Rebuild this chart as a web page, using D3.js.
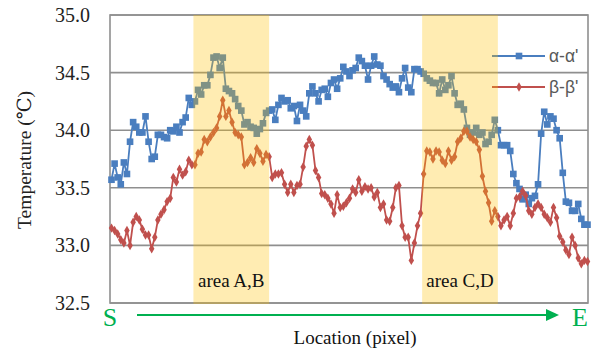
<!DOCTYPE html>
<html><head><meta charset="utf-8">
<script src="https://cdn.jsdelivr.net/npm/d3@7"></script>
<style>body{margin:0;background:#fff}svg{display:block}</style>
</head><body><svg id="c" width="599" height="352"></svg>
<script>
const yTicks = [32.5, 33.0, 33.5, 34.0, 34.5, 35.0];
const seriesNames = ["α-α'", "β-β'"];
const areaLabels = ["area A,B", "area C,D"];
// highlighted areas as [start index, end index] on the location axis
const areaStart = [26.5, 100.5];
const areaEnd = [51, 125];
const alpha = [33.57,33.71,33.59,33.53,33.72,33.62,33.90,34.07,34.03,33.98,33.98,34.12,33.90,33.75,33.77,33.96,33.96,33.94,33.93,34.00,
33.99,34.03,33.98,34.07,34.11,34.28,34.22,34.25,34.35,34.31,34.39,34.39,34.48,34.63,34.64,34.54,34.63,34.36,34.34,34.32,
34.27,34.21,34.17,34.05,34.07,34.03,34.02,33.97,34.01,34.06,34.15,34.17,34.18,34.09,34.22,34.28,34.25,34.26,34.19,34.21,
34.08,34.22,34.17,34.12,34.32,34.38,34.32,34.25,34.35,34.36,34.29,34.41,34.44,34.36,34.45,34.55,34.51,34.47,34.52,34.54,
34.63,34.60,34.56,34.44,34.56,34.64,34.57,34.56,34.47,34.44,34.40,34.37,34.38,34.33,34.45,34.54,34.37,34.33,34.53,34.53,
34.51,34.49,34.45,34.43,34.41,34.41,34.32,34.44,34.35,34.39,34.47,34.32,34.22,34.23,34.18,34.02,33.96,33.98,34.02,33.96,
33.98,33.88,33.90,33.96,34.09,34.00,33.87,33.87,33.87,33.82,33.62,33.54,33.49,33.40,33.44,33.36,33.41,33.43,33.53,33.97,
34.16,34.05,34.12,34.10,34.00,33.93,33.63,33.38,33.37,33.30,33.30,33.36,33.23,33.18,33.18];
const beta = [33.15,33.13,33.10,33.05,33.02,33.13,33.00,33.20,33.25,33.22,33.14,33.09,33.09,32.97,33.07,33.22,33.27,33.31,33.38,33.41,
33.59,33.55,33.66,33.61,33.64,33.74,33.70,33.70,33.80,33.81,33.92,33.90,33.94,33.98,34.02,34.12,34.26,34.12,34.17,34.07,
33.98,33.96,33.94,33.70,33.72,33.76,33.72,33.84,33.80,33.73,33.79,33.77,33.59,33.62,33.62,33.63,33.53,33.46,33.53,33.46,
33.52,33.53,33.68,33.86,33.92,33.87,33.65,33.59,33.45,33.44,33.41,33.36,33.28,33.44,33.33,33.34,33.37,33.41,33.49,33.46,
33.57,33.47,33.51,33.49,33.50,33.42,33.46,33.33,33.36,33.22,33.21,33.33,33.50,33.52,33.17,33.07,33.07,32.87,33.02,33.17,
33.28,33.62,33.82,33.81,33.75,33.82,33.81,33.74,33.71,33.82,33.74,33.77,33.90,33.93,33.99,33.99,33.94,33.92,33.90,33.83,
33.60,33.47,33.37,33.21,33.30,33.25,33.17,33.22,33.25,33.17,33.28,33.41,33.42,33.47,33.43,33.30,33.27,33.33,33.36,33.33,
33.27,33.24,33.20,33.33,33.24,33.08,33.03,32.96,32.92,33.07,33.00,32.89,32.84,32.87,32.86];

const svg = d3.select("#c");
const L = 110, R = 588, T = 15, B = 303;
const n = alpha.length;
const x = d3.scaleLinear().domain([0, n - 1]).range([111.5, 587.5]);
const y = d3.scaleLinear().domain([32.5, 35.0]).range([B, T]);
const serif = "'Liberation Serif','DejaVu Serif',serif";
const blue = "#4A7EBF", red = "#C0504D", green = "#00B050";

// gridlines
svg.append("g").selectAll("line").data(yTicks).join("line")
  .attr("x1", L).attr("x2", R).attr("y1", d => y(d)).attr("y2", d => y(d))
  .attr("stroke", "#8f8f8f").attr("stroke-width", 1.6);
// frame
svg.append("rect").attr("x", L).attr("y", T).attr("width", R - L).attr("height", B - T)
  .attr("fill", "none").attr("stroke", "#8f8f8f").attr("stroke-width", 1.6);

// y axis labels
const ya = d3.axisLeft(y).tickValues(yTicks).tickFormat(d3.format(".1f")).tickSize(0).tickPadding(20);
const yg = svg.append("g").attr("transform", `translate(${L},0)`).call(ya);
yg.select(".domain").remove();
yg.selectAll("text").attr("font-family", serif).attr("font-size", 20).attr("fill", "#222");

// series
const series = [
  {name: seriesNames[0], vals: alpha, color: blue, shape: d3.symbolSquare, size: 44},
  {name: seriesNames[1], vals: beta, color: red, shape: d3.symbolDiamond, size: 26}
];
series.forEach(s => {
  const g = svg.append("g");
  g.append("path").datum(s.vals)
    .attr("d", d3.line().x((d, i) => x(i)).y(d => y(d)))
    .attr("fill", "none").attr("stroke", s.color).attr("stroke-width", 1.8);
  g.selectAll("path.m").data(s.vals).join("path").attr("class", "m")
    .attr("transform", (d, i) => `translate(${x(i)},${y(d)})`)
    .attr("d", d3.symbol().type(s.shape).size(s.size)).attr("fill", s.color);
});

// legend
series.forEach((s, k) => {
  const ly = 56 + k * 31;
  svg.append("line").attr("x1", 492).attr("x2", 545).attr("y1", ly).attr("y2", ly)
    .attr("stroke", s.color).attr("stroke-width", 1.8);
  svg.append("path").attr("transform", `translate(519,${ly})`)
    .attr("d", d3.symbol().type(s.shape).size(s.size)).attr("fill", s.color);
  svg.append("text").attr("x", 549).attr("y", ly + 6).text(s.name)
    .attr("font-family", "'Liberation Sans','DejaVu Sans',sans-serif").attr("font-size", 17.5).attr("fill", "#595959");
});

// highlight areas (overlay)
areaStart.forEach((a, k) => {
  const x0 = x(a), x1 = x(areaEnd[k]);
  svg.append("rect").attr("x", x0).attr("y", T).attr("width", x1 - x0).attr("height", B - T + 1)
    .attr("fill", "#FFC000").attr("fill-opacity", 0.3);
  svg.append("text").attr("x", (x0 + x1) / 2).attr("y", 287).attr("text-anchor", "middle")
    .attr("font-family", serif).attr("font-size", 19).attr("fill", "#111").text(areaLabels[k]);
});

// y label
svg.append("text").attr("transform", "translate(31,160) rotate(-90)").attr("text-anchor", "middle")
  .attr("font-family", serif).attr("font-size", 19.5).attr("fill", "#222").text("Temperature (℃)");

// S -> E arrow
svg.append("text").attr("x", 110).attr("y", 326).attr("text-anchor", "middle")
  .attr("font-family", serif).attr("font-size", 26).attr("fill", green).text("S");
svg.append("text").attr("x", 580).attr("y", 326).attr("text-anchor", "middle")
  .attr("font-family", serif).attr("font-size", 26).attr("fill", green).text("E");
svg.append("line").attr("x1", 137).attr("x2", 548).attr("y1", 315).attr("y2", 315)
  .attr("stroke", green).attr("stroke-width", 2.2);
svg.append("path").attr("d", "M546,309 L559,315 L546,321 Z").attr("fill", green);

svg.append("text").attr("x", 355).attr("y", 344).attr("text-anchor", "middle")
  .attr("font-family", serif).attr("font-size", 19).attr("fill", "#111").text("Location (pixel)");
</script></body></html>
